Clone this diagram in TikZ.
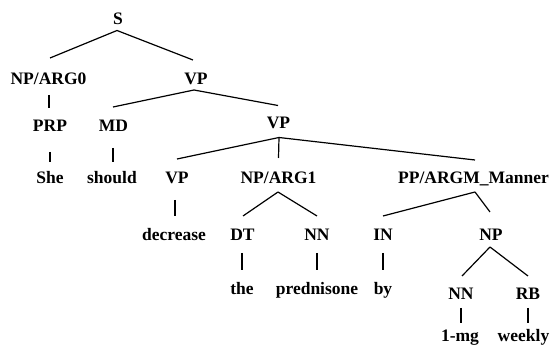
\documentclass[tikz,border=0pt]{standalone}
\usepackage{fontspec}
\setmainfont{Liberation Serif}
\begin{document}
\begin{tikzpicture}[x=1pt,y=-1pt,
  lbl/.style={font=\bfseries\fontsize{17.5}{20}\selectfont, inner sep=0pt, text height=11.6pt, text depth=0pt, anchor=center},
  br/.style={line width=1.2pt, black}]
\useasboundingbox (0,0) rectangle (550,347);
% labels
\node[lbl] (S) at (118,18.5) {S};
\node[lbl] (NPa) at (48.5,79) {NP/ARG0};
\node[lbl] (VPa) at (196,79) {VP};
\node[lbl] (PRP) at (50,126) {PRP};
\node[lbl] (MD) at (113.5,126) {MD};
\node[lbl] (VPb) at (278.5,122.5) {VP};
\node[lbl] (She) at (50,178) {She};
\node[lbl] (should) at (112,178) {should};
\node[lbl] (VPc) at (177,178) {VP};
\node[lbl] (NPb) at (278.5,178) {NP/ARG1};
\node[lbl] (PP) at (473.5,178) {PP/ARGM\_Manner};
\node[lbl] (decrease) at (174,235) {decrease};
\node[lbl] (DT) at (242.5,235) {DT};
\node[lbl] (NNa) at (317,235) {NN};
\node[lbl] (IN) at (383,235) {IN};
\node[lbl] (NPc) at (491,235) {NP};
\node[lbl] (the) at (242,289) {the};
\node[lbl] (pred) at (317,289) {prednisone};
\node[lbl] (by) at (383,289) {by};
\node[lbl] (NNb) at (461,294) {NN};
\node[lbl] (RB) at (528,294) {RB};
\node[lbl] (mg) at (460,336) {1-mg};
\node[lbl] (weekly) at (523.5,336) {weekly};
% branches: (parent, child) with end-point offsets
\newcommand{\br}[6]{\draw[br] ([shift={(#3,#4)}]#1.south) -- ([shift={(#5,#6)}]#2.north);}
\br{S}{NPa}{-1}{6}{1.5}{-15}
\br{S}{VPa}{-1}{6}{-3}{-13}
\br{NPa}{PRP}{0.5}{10}{-1}{-12}
\br{VPa}{MD}{-2}{5}{-0.5}{-13}
\br{VPa}{VPb}{-2}{5}{-0.5}{-11}
\br{PRP}{She}{0}{20}{0}{-10}
\br{MD}{should}{-0.5}{16}{1}{-10}
\br{VPb}{VPc}{0.5}{9}{0}{-13}
\br{VPb}{NPb}{0.5}{9}{0}{-14}
\br{VPb}{PP}{0.5}{9}{1.5}{-12}
\br{VPc}{decrease}{-2}{16}{1}{-13}
\br{NPb}{DT}{-0.5}{8}{0.5}{-13}
\br{NPb}{NNa}{-0.5}{8}{0}{-13}
\br{PP}{IN}{1.5}{8}{0}{-13}
\br{PP}{NPc}{1.5}{8}{-1}{-17}
\br{DT}{the}{-0.5}{12}{0}{-13}
\br{NNa}{pred}{0}{12}{0}{-13}
\br{IN}{by}{0}{12}{0}{-13}
\br{NPc}{NNb}{-1}{6}{1}{-12}
\br{NPc}{RB}{-1}{6}{0}{-12}
\br{NNb}{mg}{0}{8}{1}{-7}
\br{RB}{weekly}{0}{8}{4.5}{-7}
\end{tikzpicture}
\end{document}
